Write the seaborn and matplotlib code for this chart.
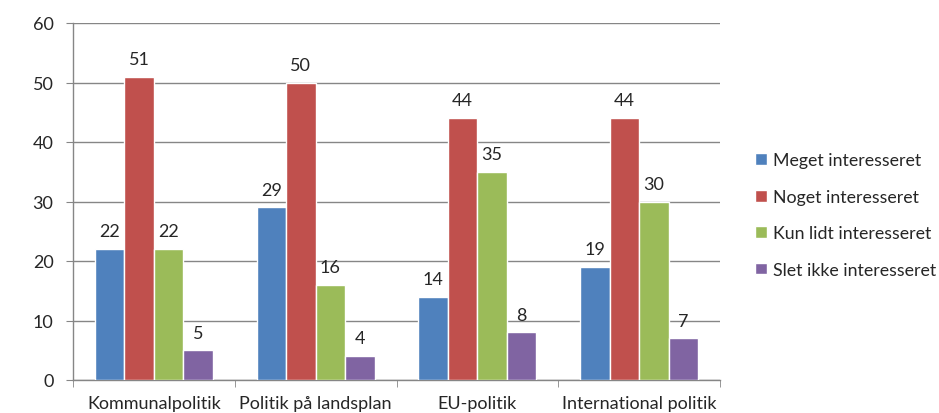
import pandas as pd
import seaborn as sns
import matplotlib.pyplot as plt
from matplotlib.ticker import FixedLocator

sns.set_style("white")
plt.rcParams["font.family"] = ["Lato", "DejaVu Sans"]

# Data
categories = ["Kommunalpolitik", "Politik på landsplan", "EU-politik", "International politik"]
series = ["Meget interesseret", "Noget interesseret", "Kun lidt interesseret", "Slet ikke interesseret"]
meget = [22, 29, 14, 19]
noget = [51, 50, 44, 44]
kun_lidt = [22, 16, 35, 30]
slet_ikke = [5, 4, 8, 7]
colors = ["#4F81BD", "#C0504D", "#9BBB59", "#8064A2"]

df = pd.DataFrame({
    "kategori": categories * 4,
    "serie": [s for s in series for _ in categories],
    "værdi": meget + noget + kun_lidt + slet_ikke,
})

fig = plt.figure(figsize=(9.39, 4.14), dpi=100)
ax = fig.add_axes([73 / 939, 1 - 381 / 414, (720 - 73) / 939, (381 - 24) / 414])

sns.barplot(data=df, x="kategori", y="værdi", hue="serie", order=categories,
            hue_order=series, palette=colors, width=0.73, gap=0,
            saturation=1, errorbar=None, ax=ax, zorder=3)

for cont in ax.containers:
    ax.bar_label(cont, padding=7, fontsize=13)

ax.set_ylim(0, 60)
ax.set_yticks(range(0, 61, 10))
ax.set_xlim(-0.5, 3.5)
ax.yaxis.grid(True, color="#868686", linewidth=1, zorder=0)
ax.set_xlabel("")
ax.set_ylabel("")

for side in ["top", "right"]:
    ax.spines[side].set_visible(False)
for side in ["left", "bottom"]:
    ax.spines[side].set_color("#868686")
    ax.spines[side].set_linewidth(1)

ax.tick_params(axis="y", length=5, color="#868686", labelsize=13, pad=9, direction="out", left=True)
ax.tick_params(axis="x", which="major", length=0, labelsize=13, pad=11)
ax.xaxis.set_minor_locator(FixedLocator([-0.5, 0.5, 1.5, 2.5, 3.5]))
ax.tick_params(axis="x", which="minor", length=5, color="#868686", direction="out", bottom=True)

ax.legend(loc="center left", bbox_to_anchor=(1.03, 0.462), frameon=False, fontsize=12.8,
          handlelength=0.65, handleheight=0.65, handletextpad=0.35, labelspacing=1.15)

fig.savefig("out.png", dpi=100)
